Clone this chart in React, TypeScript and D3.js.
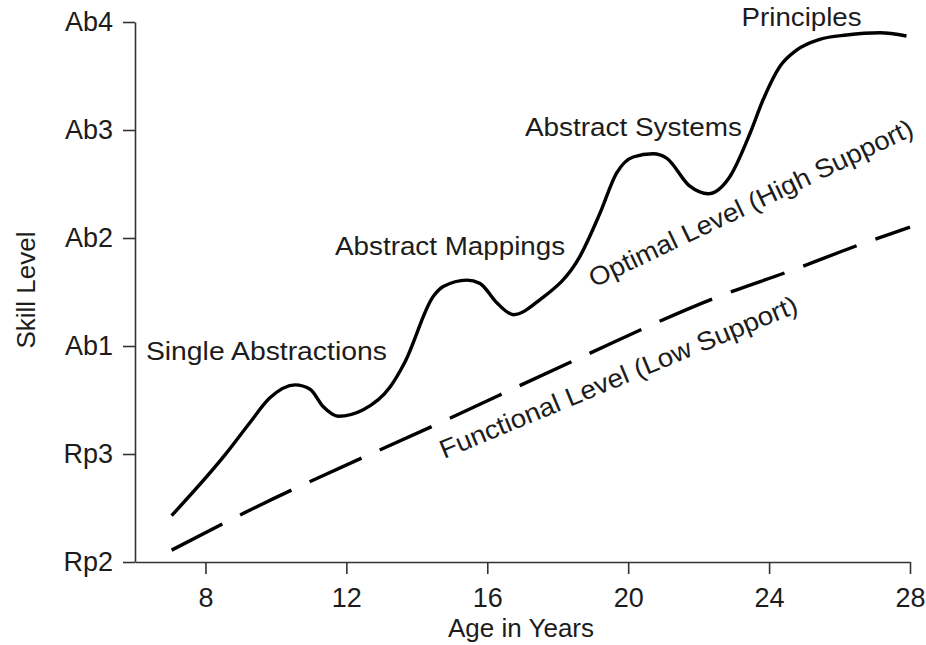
import { useEffect, useRef } from "react";
import * as d3 from "d3";

// skill levels on the y axis, bottom to top
const levelLabels = ["Rp2", "Rp3", "Ab1", "Ab2", "Ab3", "Ab4"];
const ageTicks = [8, 12, 16, 20, 24, 28];

// optimal level (high support): age in years -> level index (Rp2 = 0)
const optimalAges = [
    7.04, 8.6, 9.26, 9.83, 10.55, 10.97, 11.34, 11.77, 12.48, 13.24, 13.66, 14.47,
    14.75, 15.42, 15.79, 16.27, 16.74, 17.5, 18.63, 19.2, 19.67, 20.14, 20.71, 21.09,
    21.75, 22.27, 22.89, 23.46, 23.83, 24.31, 24.78, 25.44, 26.2, 27.15, 27.9,
];
const optimalLevels = [
    0.43, 1.01, 1.29, 1.52, 1.64, 1.6, 1.44, 1.35, 1.41, 1.62, 1.85, 2.46,
    2.55, 2.61, 2.58, 2.4, 2.29, 2.43, 2.83, 3.23, 3.6, 3.75, 3.78, 3.74,
    3.48, 3.41, 3.57, 3.97, 4.28, 4.59, 4.74, 4.84, 4.88, 4.9, 4.87,
];

// functional level (low support)
const functionalAges = [7.04, 8.98, 15.03, 18.49, 22.55, 24.64, 26.72, 28.0];
const functionalLevels = [0.11, 0.435, 1.345, 1.87, 2.456, 2.7, 2.956, 3.1];

const stageNames = ["Single Abstractions", "Abstract Mappings", "Abstract Systems", "Principles"];
const lineNames = ["Optimal Level (High Support)", "Functional Level (Low Support)"];

const width = 926;
const height = 645;
const font = "'Liberation Sans', Arial, Helvetica, sans-serif";
const ink = "#1c1c1c";

export default function App() {
    const svgRef = useRef<SVGSVGElement | null>(null);

    useEffect(() => {
        const svg = d3.select(svgRef.current);
        svg.selectAll("*").remove();

        const x = d3.scaleLinear().domain([6, 28]).range([135, 910]);
        const y = d3.scaleLinear().domain([0, 5]).range([562, 22]);

        // axes
        const xAxis = svg.append("g")
            .attr("transform", `translate(0,${y(0)})`)
            .call(d3.axisBottom(x).tickValues(ageTicks).tickSize(12).tickSizeOuter(0).tickPadding(14));
        const yAxis = svg.append("g")
            .attr("transform", `translate(${x(6)},0)`)
            .call(d3.axisLeft(y).tickValues(d3.range(levelLabels.length))
                .tickFormat((d: any) => levelLabels[d]).tickSize(12).tickSizeOuter(0).tickPadding(10));

        [xAxis, yAxis].forEach(ax => {
            ax.select(".domain").attr("stroke", "#333").attr("stroke-width", 1.6);
            ax.selectAll(".tick line").attr("stroke", "#333").attr("stroke-width", 1.6);
            ax.selectAll(".tick text")
                .attr("fill", ink)
                .style("font-family", font)
                .style("font-size", "27px");
        });

        svg.append("text")
            .attr("x", 521)
            .attr("y", 637)
            .attr("text-anchor", "middle")
            .attr("fill", ink)
            .style("font-family", font)
            .style("font-size", "26px")
            .text("Age in Years");

        svg.append("text")
            .attr("transform", "translate(35,290) rotate(-90)")
            .attr("text-anchor", "middle")
            .attr("fill", ink)
            .style("font-family", font)
            .style("font-size", "26px")
            .text("Skill Level");

        // lines
        const optimal = d3.line<number>()
            .x((_, i) => x(optimalAges[i]))
            .y(d => y(d))
            .curve(d3.curveMonotoneX);
        const functional = d3.line<number>()
            .x((_, i) => x(functionalAges[i]))
            .y(d => y(d))
            .curve(d3.curveMonotoneX);

        svg.append("path")
            .datum(optimalLevels)
            .attr("fill", "none")
            .attr("stroke", "#000")
            .attr("stroke-width", 3.4)
            .attr("stroke-linejoin", "round")
            .attr("d", optimal);

        svg.append("path")
            .datum(functionalLevels)
            .attr("fill", "none")
            .attr("stroke", "#000")
            .attr("stroke-width", 3.4)
            .attr("stroke-dasharray", "57 20")
            .attr("d", functional);

        // stage annotations: [age, level, text width]
        const stagePos = [
            [6.31, 1.87, 241],
            [11.68, 2.84, 230],
            [17.07, 3.94, 217],
            [23.22, 4.96, 120],
        ];
        stageNames.forEach((name, i) => {
            const [a, l, w] = stagePos[i];
            svg.append("text")
                .attr("x", x(a))
                .attr("y", y(l))
                .attr("fill", ink)
                .attr("textLength", w)
                .attr("lengthAdjust", "spacingAndGlyphs")
                .style("font-family", font)
                .style("font-size", "26px")
                .text(name);
        });

        // line annotations: [age, level, angle, text width]
        const linePos = [
            [19.03, 2.54, -25.5, 356],
            [14.77, 0.954, -22.5, 385],
        ];
        lineNames.forEach((name, i) => {
            const [a, l, ang, w] = linePos[i];
            svg.append("text")
                .attr("transform", `translate(${x(a)},${y(l)}) rotate(${ang})`)
                .attr("fill", ink)
                .attr("textLength", w)
                .attr("lengthAdjust", "spacingAndGlyphs")
                .style("font-family", font)
                .style("font-size", "26px")
                .text(name);
        });
    }, []);

    return (
        <svg
            ref={svgRef}
            width={width}
            height={height}
            style={{ position: "absolute", left: 0, top: 0, background: "#fff" }}
        />
    );
}
